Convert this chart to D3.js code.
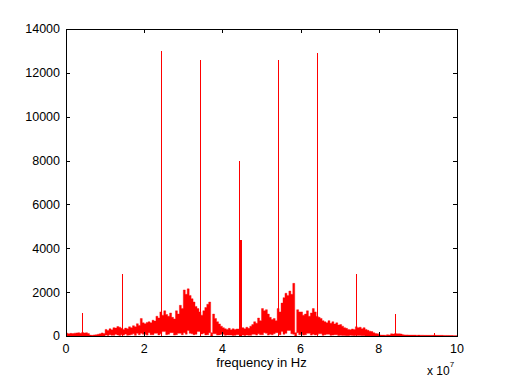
<!DOCTYPE html>
<html>
<head>
<meta charset="utf-8">
<script src="https://cdn.jsdelivr.net/npm/d3@7"></script>
<style>
  body { margin: 0; background: #fff; }
  svg { display: block; }
  text { font-family: "Liberation Sans", Arial, Helvetica, sans-serif; fill: #000; }
</style>
</head>
<body>
<div id="chart"></div>
<script>
// spectrum envelope, one value per 0.05 x 10^7 Hz bin
var binStep = 0.05;
var envelopeTop = [
    130, 100, 120, 110, 130, 140, 150, 120, 160, 140,
    150, 110, 40, 30, 50, 60, 80, 100, 140, 110,
    300, 250, 330, 280, 380, 360, 430, 400, 350, 300,
    360, 330, 420, 380, 470, 420, 560, 480, 800, 600,
    560, 620, 650, 600, 720, 680, 900, 820, 1100, 950,
    1150, 980, 900, 1050, 850, 780, 1150, 1000, 1400, 1250,
    2100, 1900, 2150, 1850, 1700, 1550, 1350, 1250, 1100, 950,
    1150, 1300, 1450, 1550, 150, 1000, 800, 650, 550, 450,
    380, 330, 300, 350, 280, 330, 300, 320, 320, 280,
    380, 330, 400, 350, 450, 520, 650, 580, 820, 700,
    1250, 1150, 1200, 1000, 850, 750, 800, 700, 1250, 1100,
    1500, 1750, 1950, 1850, 2050, 1900, 2400, 150, 1200, 1100,
    1100, 950, 1000, 1150, 900, 1050, 1250, 1100, 900, 850,
    800, 700, 650, 600, 700, 580, 650, 550, 600, 500,
    520, 450, 380, 350, 300, 280, 320, 300, 420, 380,
    400, 330, 380, 300, 260, 220, 200, 150, 110, 100,
    50, 40, 40, 35, 60, 50, 100, 90, 110, 100,
    100, 90, 60, 50, 50, 40, 40, 40, 40, 35,
    40, 35, 35, 30, 30, 30, 30, 30, 40, 30,
    30, 30, 30, 25, 25, 25, 20, 20, 15, 15
];
var envelopeLow = [
    0, 0, 0, 0, 0, 0, 0, 0, 0, 0,
    0, 0, 0, 0, 0, 0, 0, 0, 0, 0,
    40, 20, 60, 30, 30, 80, 50, 20, 60, 40,
    90, 30, 40, 70, 100, 30, 120, 60, 120, 80,
    80, 40, 150, 60, 60, 120, 120, 50, 100, 200,
    200, 60, 80, 150, 150, 40, 60, 120, 120, 60,
    150, 80, 250, 120, 100, 60, 80, 200, 200, 90,
    120, 50, 60, 150, 0, 100, 100, 40, 50, 80,
    80, 30, 50, 40, 40, 20, 30, 60, 60, 30,
    40, 20, 50, 30, 30, 80, 80, 40, 100, 60,
    60, 150, 120, 40, 80, 60, 100, 150, 150, 60,
    200, 80, 120, 250, 250, 100, 80, 0, 150, 60,
    100, 40, 60, 120, 120, 40, 80, 50, 60, 100,
    100, 30, 60, 80, 80, 30, 40, 60, 60, 20,
    30, 20, 20, 10, 10, 30, 20, 10, 30, 20,
    20, 10, 10, 0, 0, 0, 0, 0, 0, 0,
    0, 0, 0, 0, 0, 0, 0, 0, 0, 0,
    0, 0, 0, 0, 0, 0, 0, 0, 0, 0,
    0, 0, 0, 0, 0, 0, 0, 0, 0, 0,
    0, 0, 0, 0, 0, 0, 0, 0, 0, 0
];

// narrow spectral lines
var spikeFreq = [0.42, 1.42, 2.42, 3.42, 4.42, 4.44, 5.42, 6.42, 7.42, 8.42, 9.42];
var spikeHeight = [1050, 2850, 13000, 12600, 8000, 4400, 12600, 12900, 2850, 1000, 150];
var spikeWidth = [1, 1, 1, 1, 1, 2, 1, 1, 1, 1, 1];

var xTicks = [0, 2, 4, 6, 8, 10];
var yTicks = [0, 2000, 4000, 6000, 8000, 10000, 12000, 14000];

var W = 506, H = 380;
var margin = {top: 29, left: 66, right: 49, bottom: 44};
var width = W - margin.left - margin.right,
    height = H - margin.top - margin.bottom;

var svg = d3.select("#chart").append("svg")
    .attr("width", W)
    .attr("height", H);

var g = svg.append("g")
    .attr("transform", "translate(" + margin.left + "," + margin.top + ")");

var x = d3.scaleLinear().domain([0, 10]).range([0, width]);
var y = d3.scaleLinear().domain([0, 14000]).range([height, 0]);

g.append("clipPath").attr("id", "clip")
    .append("rect").attr("width", width).attr("height", height);

var plot = g.append("g").attr("clip-path", "url(#clip)");

// envelope data: bins plus closing point at the right edge
var bins = envelopeTop.map(function (v, i) {
    return {f: i * binStep, top: v, low: envelopeLow[i]};
});
bins.push({f: 10, top: envelopeTop[envelopeTop.length - 1], low: envelopeLow[envelopeLow.length - 1]});

var area = d3.area()
    .curve(d3.curveStepAfter)
    .x(function (d) { return x(d.f); })
    .y0(function (d) { return y(d.low); })
    .y1(function (d) { return y(d.top); });

plot.append("path")
    .datum(bins)
    .attr("d", area)
    .attr("fill", "#ff0000")
    .attr("stroke", "#ff0000")
    .attr("stroke-width", 0.4);

// spikes
plot.selectAll(".spike")
    .data(spikeFreq)
    .enter().append("line")
    .attr("class", "spike")
    .attr("x1", function (d) { return Math.round(x(d)) + 0.5; })
    .attr("x2", function (d) { return Math.round(x(d)) + 0.5; })
    .attr("y1", y(0))
    .attr("y2", function (d, i) { return y(spikeHeight[i]); })
    .attr("stroke", "#ff0000")
    .attr("stroke-width", function (d, i) { return spikeWidth[i]; })
    .attr("shape-rendering", "crispEdges");

// box
g.append("rect")
    .attr("x", 0.5).attr("y", 0.5)
    .attr("width", width).attr("height", height)
    .attr("fill", "none")
    .attr("stroke", "#000")
    .attr("shape-rendering", "crispEdges");

// ticks pointing inward on all four sides
var tickLen = 4;
var axes = g.append("g").attr("stroke", "#000").attr("shape-rendering", "crispEdges");
xTicks.forEach(function (t) {
    var px = Math.round(x(t)) + 0.5;
    axes.append("line").attr("x1", px).attr("x2", px).attr("y1", height).attr("y2", height - tickLen);
    axes.append("line").attr("x1", px).attr("x2", px).attr("y1", 0).attr("y2", tickLen);
});
yTicks.forEach(function (t) {
    var py = Math.round(y(t)) + 0.5;
    axes.append("line").attr("x1", 0).attr("x2", tickLen).attr("y1", py).attr("y2", py);
    axes.append("line").attr("x1", width).attr("x2", width - tickLen).attr("y1", py).attr("y2", py);
});

// tick labels
g.selectAll(".xlab")
    .data(xTicks)
    .enter().append("text")
    .attr("class", "xlab")
    .attr("x", function (d) { return x(d); })
    .attr("y", height + 17)
    .attr("text-anchor", "middle")
    .attr("font-size", 12.5)
    .text(function (d) { return d; });

g.selectAll(".ylab")
    .data(yTicks)
    .enter().append("text")
    .attr("class", "ylab")
    .attr("x", -6)
    .attr("y", function (d) { return y(d); })
    .attr("dy", "0.35em")
    .attr("text-anchor", "end")
    .attr("font-size", 12.5)
    .text(function (d) { return d; });

// axis label
g.append("text")
    .attr("x", width / 2)
    .attr("y", height + 31)
    .attr("text-anchor", "middle")
    .attr("font-size", 13)
    .text("frequency in Hz");

// exponent
var ex = g.append("text")
    .attr("x", width - 30)
    .attr("y", height + 39)
    .attr("font-size", 12);
ex.append("tspan").text("x 10");
ex.append("tspan").attr("dy", -8).attr("font-size", 8).text("7");
</script>
</body>
</html>
